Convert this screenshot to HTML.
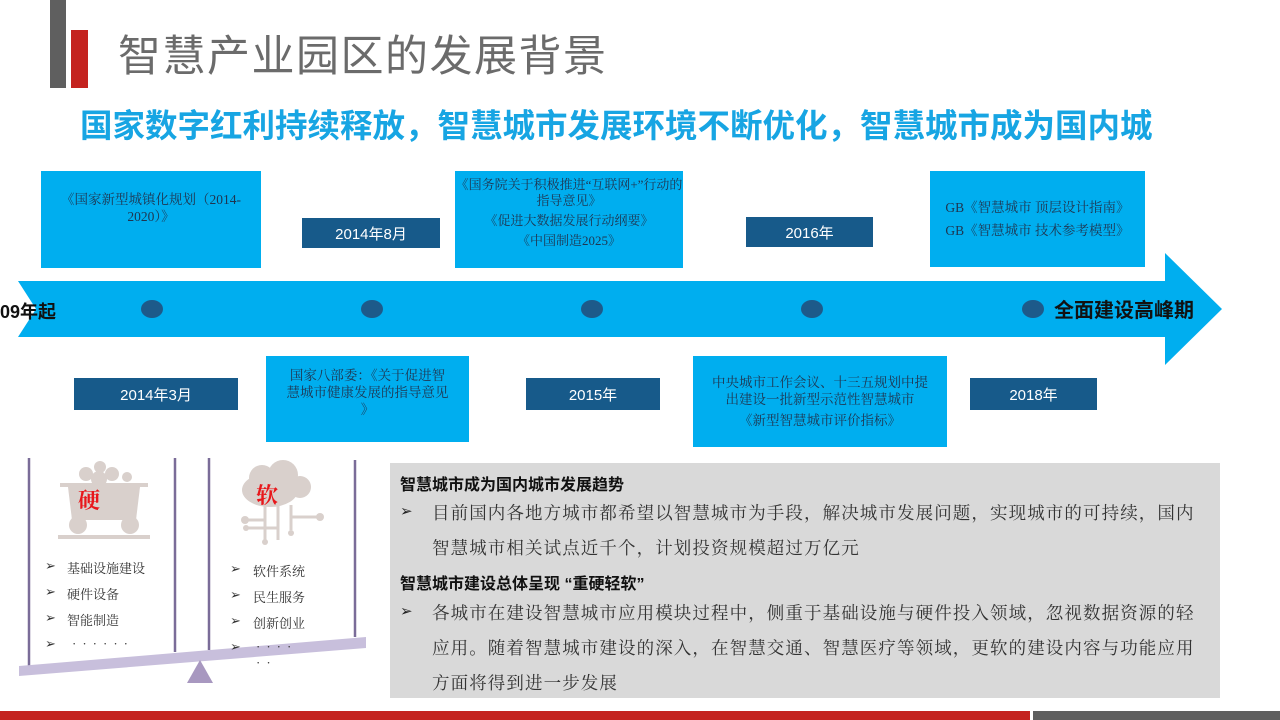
<!DOCTYPE html>
<html><head><meta charset="utf-8"><style>
*{margin:0;padding:0;box-sizing:border-box}
body{width:1280px;height:720px;position:relative;background:#fff;overflow:hidden;font-family:"Liberation Sans","Noto Sans CJK SC",sans-serif}
.a{position:absolute}
.lb{position:absolute;background:#00aeef;color:#1f3550;font-family:"Liberation Serif","Noto Serif CJK SC",serif;font-size:13.5px;text-align:center;display:flex;flex-direction:column;justify-content:center;line-height:17px}
.db{position:absolute;background:#175a8a;color:#fff;font-size:15px;display:flex;align-items:center;justify-content:center}
.li{position:absolute;font-family:"Liberation Serif","Noto Serif CJK SC",serif;font-size:13px;color:#333}
.tx{position:absolute;left:432px;font-family:"Liberation Serif","Noto Serif CJK SC",serif;font-size:17.5px;color:#333;letter-spacing:1.1px;white-space:nowrap}
.hd{position:absolute;left:400px;font-size:16px;font-weight:bold;color:#111;white-space:nowrap}
.ar{position:absolute;left:400px;font-size:15px;color:#222}
</style></head><body>
<div class="a" style="left:50px;top:0;width:16px;height:88px;background:#5f5f5f"></div>
<div class="a" style="left:71px;top:30px;width:17px;height:58px;background:#c4231f"></div>
<div class="a" style="left:118px;top:30px;font-size:43px;color:#6b6b6b;letter-spacing:1.5px;line-height:54px">智慧产业园区的发展背景</div>
<div class="a" style="left:80px;top:105px;font-size:32.5px;font-weight:bold;color:#17a5e3;line-height:42px;white-space:nowrap">国家数字红利持续释放，智慧城市发展环境不断优化，智慧城市成为国内城</div>

<svg class="a" style="left:0;top:0" width="1280" height="720">
<polygon points="18,281 1165,281 1165,253 1222,309 1165,365 1165,337 18,337 36,309" fill="#00aeef"/>
<g fill="#1d5a8a">
<ellipse cx="152" cy="309" rx="11" ry="9"/><ellipse cx="372" cy="309" rx="11" ry="9"/><ellipse cx="592" cy="309" rx="11" ry="9"/><ellipse cx="812" cy="309" rx="11" ry="9"/><ellipse cx="1033" cy="309" rx="11" ry="9"/>
</g>
<g stroke="#7a6c98" stroke-width="2.5">
<line x1="29" y1="458" x2="29" y2="668"/><line x1="175" y1="458" x2="175" y2="652"/><line x1="209" y1="458" x2="209" y2="650"/><line x1="355" y1="460" x2="355" y2="637"/>
</g>
<polygon points="19,666 366,637 366,648 19,676" fill="#c8bfdc"/>
<polygon points="200,660 187,683 213,683" fill="#a898c0"/>
<g fill="#d9d0cc">
<circle cx="100" cy="467" r="6"/><circle cx="86" cy="474" r="7"/><circle cx="112" cy="474" r="7"/><circle cx="99" cy="479" r="8"/><circle cx="127" cy="477" r="5"/>
<rect x="60" y="483" width="88" height="4"/>
<path d="M68 487 H140 L136 520 H72 Z"/>
<circle cx="78" cy="525" r="9"/><circle cx="130" cy="525" r="9"/>
<rect x="58" y="535" width="92" height="4"/>
<ellipse cx="270" cy="490" rx="28" ry="17"/><circle cx="262" cy="478" r="13"/><circle cx="283" cy="475" r="15"/><circle cx="300" cy="487" r="11"/>
<g stroke="#d9d0cc" stroke-width="3" fill="none"><path d="M265 505 V540 M278 505 V540 M291 505 V530 M265 520 H245 M291 517 H318 M278 528 H248"/></g>
<circle cx="245" cy="520" r="4"/><circle cx="320" cy="517" r="4"/><circle cx="246" cy="528" r="3"/><circle cx="265" cy="542" r="3"/><circle cx="291" cy="533" r="3"/>
</g>
</svg>
<div class="a" style="left:78px;top:484px;font-size:22px;font-weight:bold;color:#e8171b;font-family:'Liberation Serif','Noto Serif CJK SC',serif">硬</div>
<div class="a" style="left:256px;top:479px;font-size:22px;font-weight:bold;color:#e8171b;font-family:'Liberation Serif','Noto Serif CJK SC',serif">软</div>
<div class="li" style="left:45px;top:558px">➢</div><div class="li" style="left:67px;top:558px">基础设施建设</div>
<div class="li" style="left:45px;top:584px">➢</div><div class="li" style="left:67px;top:584px">硬件设备</div>
<div class="li" style="left:45px;top:610px">➢</div><div class="li" style="left:67px;top:610px">智能制造</div>
<div class="li" style="left:45px;top:636px">➢</div><div class="li" style="left:72px;top:636px;letter-spacing:6px">······</div>
<div class="li" style="left:230px;top:561px">➢</div><div class="li" style="left:253px;top:561px">软件系统</div>
<div class="li" style="left:230px;top:587px">➢</div><div class="li" style="left:253px;top:587px">民生服务</div>
<div class="li" style="left:230px;top:613px">➢</div><div class="li" style="left:253px;top:613px">创新创业</div>
<div class="li" style="left:230px;top:639px">➢</div><div class="li" style="left:256px;top:639px;letter-spacing:6px">····</div>
<div class="li" style="left:256px;top:655px;letter-spacing:6px">··</div>

<div class="a" style="left:0;top:298px;font-size:18px;font-weight:bold;color:#111">09年起</div>
<div class="a" style="left:1054px;top:294px;font-size:20px;font-weight:bold;color:#111;white-space:nowrap">全面建设高峰期</div>

<div class="lb" style="left:41px;top:171px;width:220px;height:97px;padding-bottom:24px">《国家新型城镇化规划（2014-<br>2020）》</div>
<div class="db" style="left:302px;top:218px;width:138px;height:30px">2014年8月</div>
<div class="lb" style="left:455px;top:171px;width:228px;height:97px;justify-content:flex-start;padding-top:6px;font-size:13px;line-height:16px;white-space:nowrap">《国务院关于积极推进“互联网+”行动的<br>指导意见》<div style="height:4px"></div>《促进大数据发展行动纲要》<div style="height:4px"></div>《中国制造2025》</div>
<div class="db" style="left:746px;top:217px;width:127px;height:30px">2016年</div>
<div class="lb" style="left:930px;top:171px;width:215px;height:96px;justify-content:flex-start;padding-top:25px;line-height:23px">GB《智慧城市 顶层设计指南》<br>GB《智慧城市 技术参考模型》</div>
<div class="db" style="left:74px;top:378px;width:164px;height:32px">2014年3月</div>
<div class="lb" style="left:266px;top:356px;width:203px;height:86px;padding-bottom:14px">国家八部委：《关于促进智<br>慧城市健康发展的指导意见<br>》</div>
<div class="db" style="left:526px;top:378px;width:134px;height:32px">2015年</div>
<div class="lb" style="left:693px;top:356px;width:254px;height:91px;justify-content:flex-start;padding-top:18px">中央城市工作会议、十三五规划中提<br>出建设一批新型示范性智慧城市<div style="height:4px"></div>《新型智慧城市评价指标》</div>
<div class="db" style="left:970px;top:378px;width:127px;height:32px">2018年</div>

<div class="a" style="left:390px;top:463px;width:830px;height:235px;background:#d9d9d9"></div>
<div class="hd" style="top:471px">智慧城市成为国内城市发展趋势</div>
<div class="ar" style="top:502px">➢</div>
<div class="tx" style="top:500px">目前国内各地方城市都希望以智慧城市为手段，解决城市发展问题，实现城市的可持续，国内</div>
<div class="tx" style="top:535px">智慧城市相关试点近千个，计划投资规模超过万亿元</div>
<div class="hd" style="top:570px">智慧城市建设总体呈现 “重硬轻软”</div>
<div class="ar" style="top:602px">➢</div>
<div class="tx" style="top:600px">各城市在建设智慧城市应用模块过程中，侧重于基础设施与硬件投入领域，忽视数据资源的轻</div>
<div class="tx" style="top:635px">应用。随着智慧城市建设的深入，在智慧交通、智慧医疗等领域，更软的建设内容与功能应用</div>
<div class="tx" style="top:670px">方面将得到进一步发展</div>

<div class="a" style="left:0;top:711px;width:1030px;height:9px;background:#c4231f"></div>
<div class="a" style="left:1033px;top:711px;width:247px;height:9px;background:#5f5f5f"></div>
</body></html>
